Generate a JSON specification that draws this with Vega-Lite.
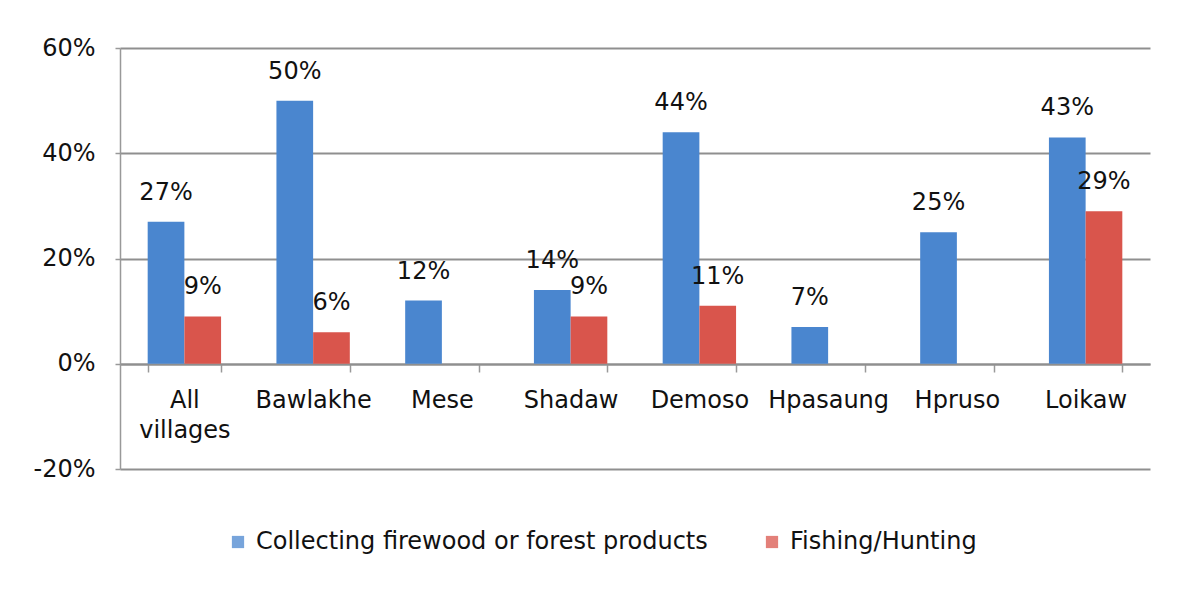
{
  "$schema": "https://vega.github.io/schema/vega-lite/v6.json",
  "width": 1030,
  "height": 421,
  "autosize": {"type": "none"},
  "padding": {"left": 120, "top": 48, "right": 36, "bottom": 121},
  "background": "white",
  "config": {"view": {"stroke": null}, "font": "DejaVu Sans"},
  "data": {
    "values": [
      {"village": "All villages", "series": "Collecting firewood or forest products", "value": 0.27},
      {"village": "All villages", "series": "Fishing/Hunting", "value": 0.09},
      {"village": "Bawlakhe", "series": "Collecting firewood or forest products", "value": 0.50},
      {"village": "Bawlakhe", "series": "Fishing/Hunting", "value": 0.06},
      {"village": "Mese", "series": "Collecting firewood or forest products", "value": 0.12},
      {"village": "Shadaw", "series": "Collecting firewood or forest products", "value": 0.14},
      {"village": "Shadaw", "series": "Fishing/Hunting", "value": 0.09},
      {"village": "Demoso", "series": "Collecting firewood or forest products", "value": 0.44},
      {"village": "Demoso", "series": "Fishing/Hunting", "value": 0.11},
      {"village": "Hpasaung", "series": "Collecting firewood or forest products", "value": 0.07},
      {"village": "Hpruso", "series": "Collecting firewood or forest products", "value": 0.25},
      {"village": "Loikaw", "series": "Collecting firewood or forest products", "value": 0.43},
      {"village": "Loikaw", "series": "Fishing/Hunting", "value": 0.29}
    ]
  },
  "encoding": {
    "x": {
      "field": "village",
      "type": "nominal",
      "sort": ["All villages", "Bawlakhe", "Mese", "Shadaw", "Demoso", "Hpasaung", "Hpruso", "Loikaw"],
      "scale": {"paddingInner": 0.43, "paddingOuter": 0.215},
      "axis": {
        "orient": "bottom",
        "offset": -105,
        "title": null,
        "labelAngle": 0,
        "labelFontSize": 24,
        "labelColor": "#111111",
        "labelPadding": 16,
        "labelBaseline": "top",
        "labelLineHeight": 30,
        "labelExpr": "datum.label == 'All villages' ? ['All', 'villages'] : datum.label",
        "tickBand": "extent",
        "tickSize": 8,
        "tickColor": "#999999",
        "tickWidth": 1.5,
        "domainColor": "#8f8f8f",
        "domainWidth": 2,
        "grid": false
      }
    },
    "xOffset": {
      "field": "series",
      "type": "nominal",
      "sort": ["Collecting firewood or forest products", "Fishing/Hunting"]
    },
    "y": {
      "field": "value",
      "type": "quantitative",
      "scale": {"domain": [-0.2, 0.6]},
      "axis": {
        "values": [-0.2, 0, 0.2, 0.4, 0.6],
        "format": ".0%",
        "labelExpr": "replace(datum.label, '\u2212', '-')",
        "title": null,
        "labelFontSize": 24,
        "labelColor": "#111111",
        "labelPadding": 20,
        "tickSize": 5,
        "tickColor": "#999999",
        "tickWidth": 1.5,
        "domainColor": "#999999",
        "domainWidth": 1.5,
        "gridColor": "#8f8f8f",
        "gridWidth": 2
      }
    }
  },
  "layer": [
    {
      "mark": {"type": "bar"},
      "encoding": {
        "color": {
          "field": "series",
          "type": "nominal",
          "sort": ["Collecting firewood or forest products", "Fishing/Hunting"],
          "scale": {"range": ["#4a86cf", "#d9554c"]},
          "legend": {
            "title": null,
            "orient": "none",
            "legendX": 106,
            "legendY": 482,
            "direction": "horizontal",
            "symbolType": "square",
            "symbolSize": 150,
            "symbolOpacity": 0.75,
            "labelFontSize": 24,
            "labelColor": "#111111",
            "labelOffset": 6,
            "columnPadding": 52,
            "labelLimit": 600
          }
        }
      }
    },
    {
      "mark": {"type": "text", "dy": -22, "baseline": "alphabetic", "fontSize": 24, "color": "#111111"},
      "encoding": {
        "text": {"field": "value", "type": "quantitative", "format": ".0%"}
      }
    }
  ]
}
